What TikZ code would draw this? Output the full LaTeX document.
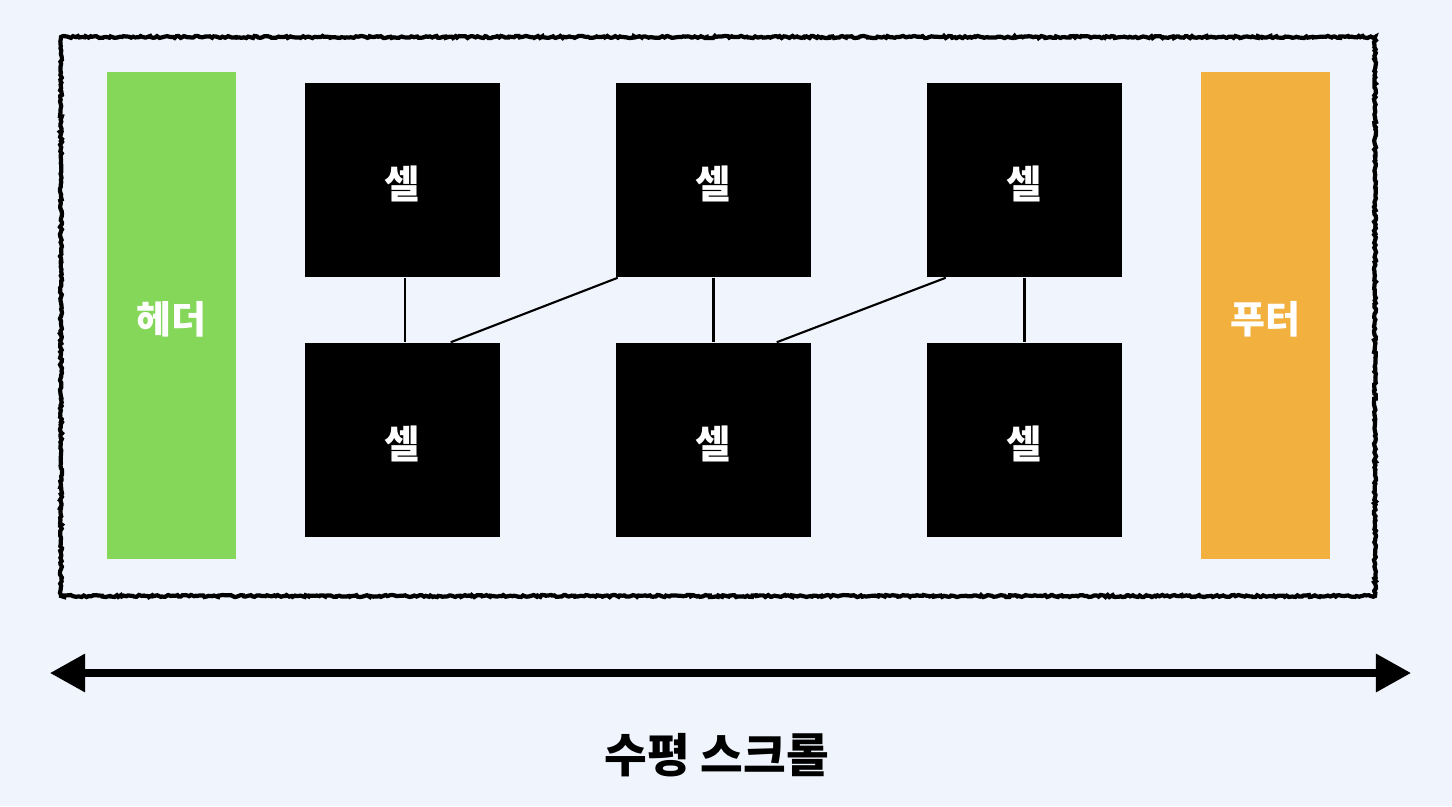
\documentclass[tikz,border=0pt]{standalone}
\usepackage{fontspec}
\setmainfont{Noto Sans CJK KR}
\usepackage{tikz}
\usetikzlibrary{calc}
\usetikzlibrary{arrows.meta}
\usetikzlibrary{decorations.pathmorphing}
\definecolor{bgblue}{HTML}{F0F5FD}
\definecolor{headgreen}{HTML}{85D75A}
\definecolor{footorange}{HTML}{F2B13F}
\newcommand{\lowered}[1]{\raisebox{-1.2pt}[\height][\depth]{#1}}
\tikzstyle{cell} = [rectangle, fill=black, minimum width=1.94cm, minimum height=1.94cm, text=white, font=\bfseries\fontsize{11}{13}\selectfont, inner sep=0pt]
\tikzstyle{bar} = [rectangle, minimum width=1.29cm, minimum height=4.87cm, text=white, font=\bfseries\fontsize{10.8}{12}\selectfont, inner sep=0pt]
\tikzstyle{link} = [line width=0.6pt]

\begin{document}
\begin{tikzpicture}[x=0.01cm,y=-0.01cm]
\fill[bgblue] (0,0) rectangle (1452,806);
\draw[line width=1.2pt, decorate, decoration={random steps, segment length=0.6pt, amplitude=0.3pt}] (61,37) rectangle (1375,596);
\node[bar, fill=headgreen] (header) at (171.5,315.5) {\lowered{헤더}};
\node[bar, fill=footorange] (footer) at (1265.5,315.5) {\lowered{푸터}};
\node[cell] (t1) at (402.5,180) {\lowered{셀}};
\node[cell] (t2) at (713.5,180) {\lowered{셀}};
\node[cell] (t3) at (1024.5,180) {\lowered{셀}};
\node[cell] (b1) at (402.5,440) {\lowered{셀}};
\node[cell] (b2) at (713.5,440) {\lowered{셀}};
\node[cell] (b3) at (1024.5,440) {\lowered{셀}};
\draw[link] ($(t1.south)+(2.5,0)$) -- ($(b1.north)+(2.5,0)$);
\draw[link] ($(t2.south west)+(2,0)$) -- ($(b1.north west)+(146,0)$);
\draw[link] (t2.south) -- (b2.north);
\draw[link] ($(t3.south west)+(19,0)$) -- ($(b2.north west)+(161,0)$);
\draw[link] (t3.south) -- (b3.north);
\coordinate (left) at (50,673);
\coordinate (right) at (1411,673);
\draw[line width=2pt, {Triangle[length=10pt,width=10.5pt]}-{Triangle[length=10pt,width=10.5pt]}] (left) -- (right);
\node[font=\bfseries\fontsize{13.2}{16}\selectfont] (scroll) at (717,755) {수평 스크롤};
\end{tikzpicture}
\end{document}
